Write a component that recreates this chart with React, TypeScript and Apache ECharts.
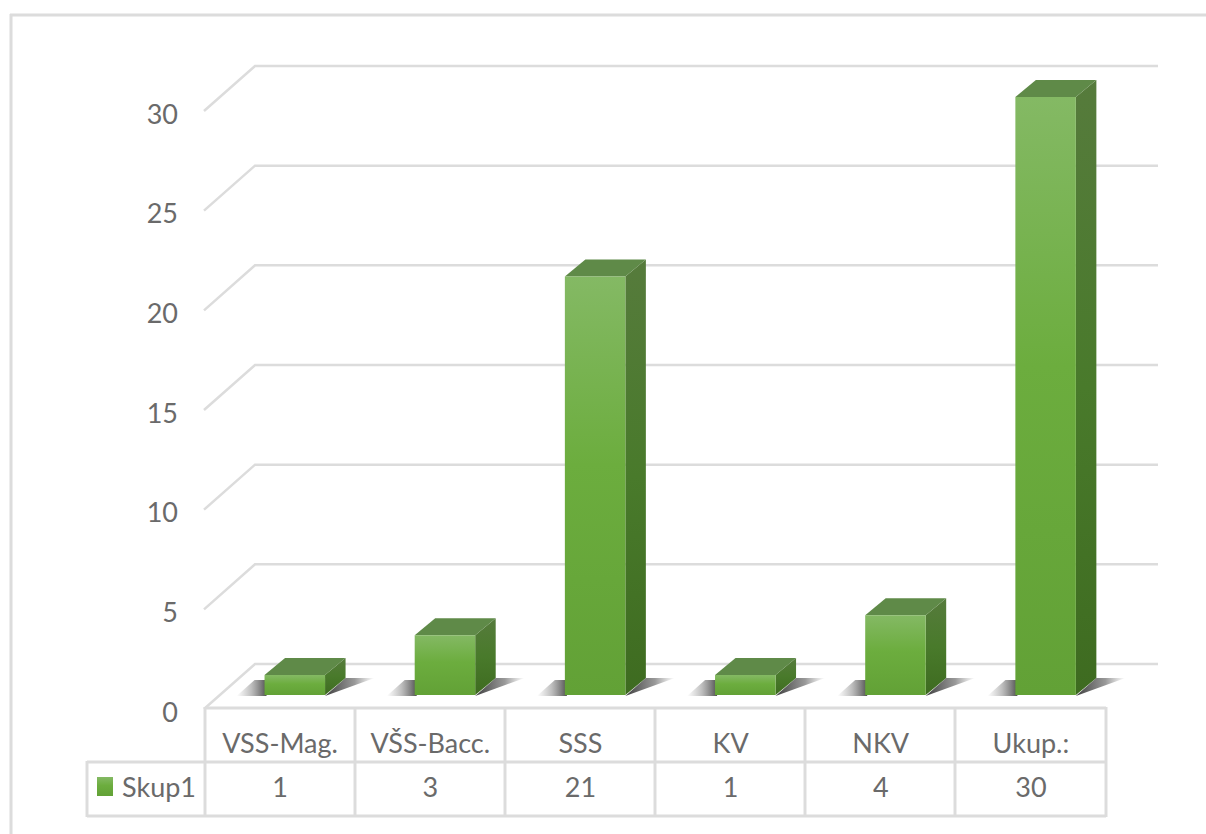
import React, { useEffect, useRef } from "react";
import * as echarts from "echarts";

const categories = ["VSS-Mag.", "VŠS-Bacc.", "SSS", "KV", "NKV", "Ukup.:"];
const seriesName = "Skup1";
const values = [1, 3, 21, 1, 4, 30];
const yTicks = [0, 5, 10, 15, 20, 25, 30];

const FONT = "Lato, 'Open Sans', sans-serif";
const TEXT = "#6a6a6a";
const LINE = "#dcdcdc";
const WALL_DX = 50;
const WALL_DY = 44;
const BAR_W = 60.5;
const BAR_DX = 20.5;
const BAR_DY = 17;
const BAR_LIFT = 13;
const BAR_SHIFT = 14.7;

const grad = (stops: [number, string][], x2 = 0, y2 = 1) =>
  new echarts.graphic.LinearGradient(0, 0, x2, y2, stops.map(([offset, color]) => ({ offset, color })));

const frontFill = () => grad([[0, "#84b964"], [0.45, "#6cad3e"], [1, "#62a136"]]);
const sideFill = () => grad([[0, "#567b3c"], [0.5, "#497a2b"], [1, "#3e6b20"]]);

const renderWall = (_p: any, api: any) => {
  const v = api.value(1);
  const [x, y] = api.coord([0, v]);
  const w = api.size([1, 0])[0];
  const left = x - w / 2;
  return {
    type: "polyline",
    shape: {
      points: [
        [left - 1, y + 1],
        [left + WALL_DX, y - WALL_DY],
        [left + w * categories.length + WALL_DX + 2, y - WALL_DY],
      ],
    },
    style: { stroke: LINE, lineWidth: 2.5, fill: "none" },
    silent: true,
  };
};

const renderBar = (_p: any, api: any) => {
  const i = api.value(0);
  const v = api.value(1);
  const [cx, y0] = api.coord([i, 0]);
  const [, yv] = api.coord([i, v]);
  const l = cx + BAR_SHIFT - BAR_W / 2;
  const r = l + BAR_W;
  const b = y0 - BAR_LIFT;
  const t = yv - BAR_LIFT;
  const poly = (points: number[][], fill: any) => ({ type: "polygon", shape: { points }, style: { fill } });
  return {
    type: "group",
    children: [
      poly(
        [[l - 28, b + 1], [l - 10, b - 15], [l + 2, b - 15], [l + 2, b + 1]],
        grad([[0, "rgba(110,110,110,0)"], [0.5, "rgba(90,90,90,0.4)"], [1, "rgba(50,50,50,0.85)"]], 1, 0)
      ),
      poly(
        [[r, b + 1], [r + BAR_DX, b - BAR_DY], [r + BAR_DX + 29, b - BAR_DY]],
        grad([[0, "rgba(40,40,40,0.9)"], [0.6, "rgba(70,70,70,0.55)"], [1, "rgba(100,100,100,0)"]], 1, 0)
      ),
      poly([[r, t], [r + BAR_DX, t - BAR_DY], [r + BAR_DX, b - BAR_DY], [r, b]], sideFill()),
      poly([[l, t], [l + BAR_DX, t - BAR_DY], [r + BAR_DX, t - BAR_DY], [r, t]], "#5f8a48"),
      { type: "rect", shape: { x: l, y: t, width: BAR_W, height: b - t }, style: { fill: frontFill() } },
    ],
  };
};

const labelStyle = { color: TEXT, fontFamily: FONT, fontSize: 27 };

const hLine = (x1: number, x2: number, y: number) => ({
  type: "line",
  shape: { x1, y1: y, x2, y2: y },
  style: { stroke: LINE, lineWidth: 3 },
  silent: true,
});
const vLine = (x: number, y1: number, y2: number) => ({
  type: "line",
  shape: { x1: x, y1, x2: x, y2 },
  style: { stroke: LINE, lineWidth: 3 },
  silent: true,
});
const tableColumns = [205, 355, 505, 655, 805, 955, 1106];

export default function App() {
  const ref = useRef<HTMLDivElement>(null);
  useEffect(() => {
    const chart = echarts.init(ref.current!, undefined, { renderer: "svg" });
    chart.setOption({
      animation: false,
      backgroundColor: "#ffffff",
      textStyle: { fontFamily: FONT },
      grid: { left: 205, width: 901, top: 110, height: 598, containLabel: false },
      legend: {
        data: [{ name: seriesName, icon: "rect", itemStyle: { color: frontFill() } }],
        left: 97,
        top: 773,
        itemWidth: 16,
        itemHeight: 19,
        itemGap: 0,
        padding: 0,
        selectedMode: false,
        textStyle: { ...labelStyle, padding: [0, 0, 0, 4] },
      },
      xAxis: [
        {
          type: "category",
          data: categories,
          position: "bottom",
          axisLine: { show: false },
          axisTick: { show: false },
          splitLine: { show: false },
          axisLabel: { ...labelStyle, interval: 0, margin: 21 },
        },
        {
          type: "category",
          data: values.map(String),
          position: "bottom",
          offset: 44,
          axisLine: { show: false },
          axisTick: { show: false },
          splitLine: { show: false },
          axisLabel: { ...labelStyle, interval: 0, margin: 21 },
        },
      ],
      yAxis: {
        type: "value",
        min: 0,
        max: 30,
        interval: 5,
        axisLine: { show: false },
        axisTick: { show: false },
        splitLine: { show: false },
        axisLabel: { ...labelStyle, margin: 27, verticalAlign: "top", lineHeight: 6 },
      },
      series: [
        {
          type: "custom",
          name: "walls",
          renderItem: renderWall,
          data: yTicks.map((t) => [0, t]),
          encode: { x: 0, y: 1 },
          z: 1,
          silent: true,
        },
        {
          type: "custom",
          name: seriesName,
          renderItem: renderBar,
          data: values.map((v, i) => [i, v]),
          encode: { x: 0, y: 1 },
          z: 2,
        },
      ],
      graphic: [
        hLine(10, 1206, 15),
        vLine(11, 14, 834),
        hLine(205, 1106, 708),
        hLine(87, 1106, 762),
        hLine(87, 1106, 816),
        vLine(87, 761, 817),
        ...tableColumns.map((x) => vLine(x, 707, 817)),
      ],
    });
    return () => chart.dispose();
  }, []);
  return (
    <div
      ref={ref}
      style={{ position: "fixed", left: 0, top: 0, width: 1206, height: 834, background: "#fff" }}
    />
  );
}
